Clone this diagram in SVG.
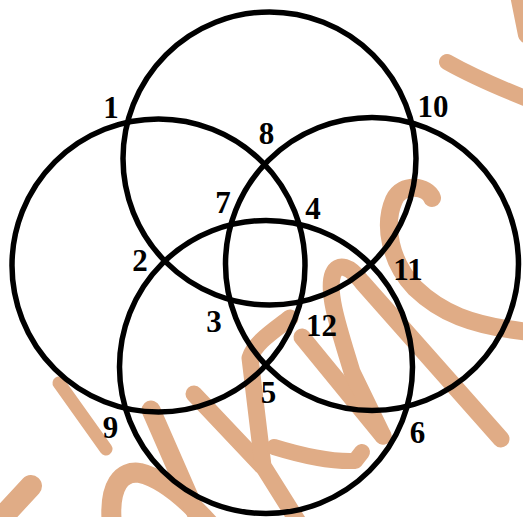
<svg xmlns="http://www.w3.org/2000/svg" width="523" height="517" viewBox="0 0 523 517">
<style>
.wm{fill:none;stroke:#E0AC86;stroke-linecap:round;stroke-linejoin:round}
.c{fill:none;stroke:#000;stroke-width:5.5}
.t{font-family:"Liberation Serif","Times New Roman",serif;font-weight:bold;font-size:31px;fill:#000;text-anchor:middle}
</style>
<rect width="523" height="517" fill="#fff"/>
<g id="watermark">
<path class="wm" stroke-width="16" d="M447,62 C470,75 495,86 525,98"/>
<path class="wm" stroke-width="16" d="M518,-5 L526,35"/>
<path class="wm" stroke-width="18" d="M432,198 C428,186 402,182 394,200 C383,225 390,262 415,288 C440,312 470,326 530,332"/>
<path class="wm" stroke-width="17" d="M302,337 L383,436"/>
<path class="wm" stroke-width="17" d="M383,436 L352,372 C340,332 326,292 333,274 C338,262 350,266 362,282 L501,439"/>
<path class="wm" stroke-width="13" d="M59,383 L106,449"/>
<path class="wm" stroke-width="22" d="M31,486 L-5,525"/>
<path class="wm" stroke-width="20" d="M112,525 C108,485 122,470 140,473 C162,478 185,497 210,525"/>
<path class="wm" stroke-width="19" d="M151,410 L200,522"/>
<path class="wm" stroke-width="17" d="M194,394 L262,466"/>
<path class="wm" stroke-width="17" d="M290,318 C275,330 255,342 250,358 L263,466 L300,525"/>
<path class="wm" stroke-width="16" d="M274,447 C300,455 330,462 355,461 L362,452"/>
</g>
<g id="circles">
<g id="circle-top"><circle class="c" cx="269.5" cy="158.5" r="146.5"/></g>
<g id="circle-left"><circle class="c" cx="158.5" cy="265.5" r="146.5"/></g>
<g id="circle-right"><circle class="c" cx="372" cy="264" r="146.5"/></g>
<g id="circle-bottom"><circle class="c" cx="266" cy="367" r="146.5"/></g>
</g>
<g id="labels">
<text class="t" x="111" y="118">1</text>
<text class="t" x="140" y="271">2</text>
<text class="t" x="214" y="332">3</text>
<text class="t" x="313" y="219">4</text>
<text class="t" x="268.5" y="403">5</text>
<text class="t" x="417.5" y="443">6</text>
<text class="t" x="223" y="213">7</text>
<text class="t" x="266.5" y="144">8</text>
<text class="t" x="110.5" y="438">9</text>
<text class="t" x="433" y="117">10</text>
<text class="t" x="408" y="280">11</text>
<text class="t" x="321.5" y="336">12</text>
</g>
</svg>
